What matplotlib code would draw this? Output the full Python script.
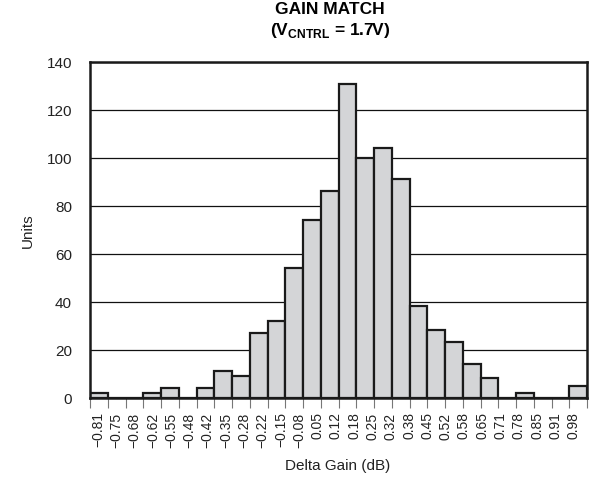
import numpy as np
import matplotlib
matplotlib.use("Agg")
import matplotlib.pyplot as plt

# ---- data ----
bin_labels = ["\u22120.81", "\u22120.75", "\u22120.68", "\u22120.62", "\u22120.55", "\u22120.48",
              "\u22120.42", "\u22120.35", "\u22120.28", "\u22120.22", "\u22120.15", "\u22120.08",
              "0.05", "0.12", "0.18", "0.25", "0.32", "0.38", "0.45", "0.52", "0.58",
              "0.65", "0.71", "0.78", "0.85", "0.91", "0.98"]
units = [2, 0, 0, 2, 4, 0, 4, 11, 9, 27, 32, 54, 74, 86, 131, 100, 104, 91,
         38, 28, 23, 14, 8, 0, 2, 0, 0, 5]
y_ticks = [0, 20, 40, 60, 80, 100, 120, 140]

plt.rcParams['font.family'] = ['Liberation Sans', 'DejaVu Sans']
plt.rcParams['mathtext.fontset'] = 'custom'
plt.rcParams['mathtext.rm'] = 'Liberation Sans'
plt.rcParams['mathtext.bf'] = 'Liberation Sans:bold'

W, H = 590, 485
fig = plt.figure(figsize=(W / 100, H / 100), dpi=100)
left, right, bottom, top = 90, 587, 398.5, 63
ax = fig.add_axes([left / W, 1 - bottom / H, (right - left) / W, (bottom - top) / H])

n = len(units)
centers = np.arange(n) + 0.5
ax.bar(centers, units, width=1.0, color='#d4d5d7', edgecolor='#1a1a1a',
       linewidth=1.6, zorder=3)

ax.set_xlim(0, n)
ax.set_ylim(0, 140)
ax.set_yticks(y_ticks)
ax.set_yticklabels([str(v) for v in y_ticks], fontsize=11, color='#222222')
ax.yaxis.grid(True, color='#111111', linewidth=0.9)
ax.set_axisbelow(True)
ax.tick_params(axis='y', length=0, pad=13)

# bin edge ticks
ax.set_xticks(np.arange(n + 1), minor=True)
ax.tick_params(axis='x', which='minor', length=7.5, width=0.8, color='#777777')
label_pos = np.linspace(0.45, 27.25, len(bin_labels))
ax.set_xticks(label_pos)
ax.set_xticklabels(bin_labels, rotation=90, fontsize=10, color='#222222')
ax.tick_params(axis='x', which='major', length=0, pad=10)

for s in ax.spines.values():
    s.set_linewidth(1.8)
    s.set_color('#1a1a1a')
    s.set_zorder(4)

fig.text(330 / W, 1 - 10 / H, "GAIN MATCH", ha='center', va='center',
         fontsize=12.5, fontweight='bold', color='#000000')
fig.text(330 / W, 1 - 31 / H, r"(V$_{\mathbf{CNTRL}}$ = 1.7V)", ha='center', va='center',
         fontsize=12.5, fontweight='bold', color='#000000')

fig.text(338 / W, 1 - 466 / H, "Delta Gain (dB)", ha='center', va='center',
         fontsize=11, color='#222222')
fig.text(28 / W, 1 - 231 / H, "Units", ha='center', va='center', rotation=90,
         fontsize=11, color='#222222')

fig.savefig("out.png", dpi=100)
